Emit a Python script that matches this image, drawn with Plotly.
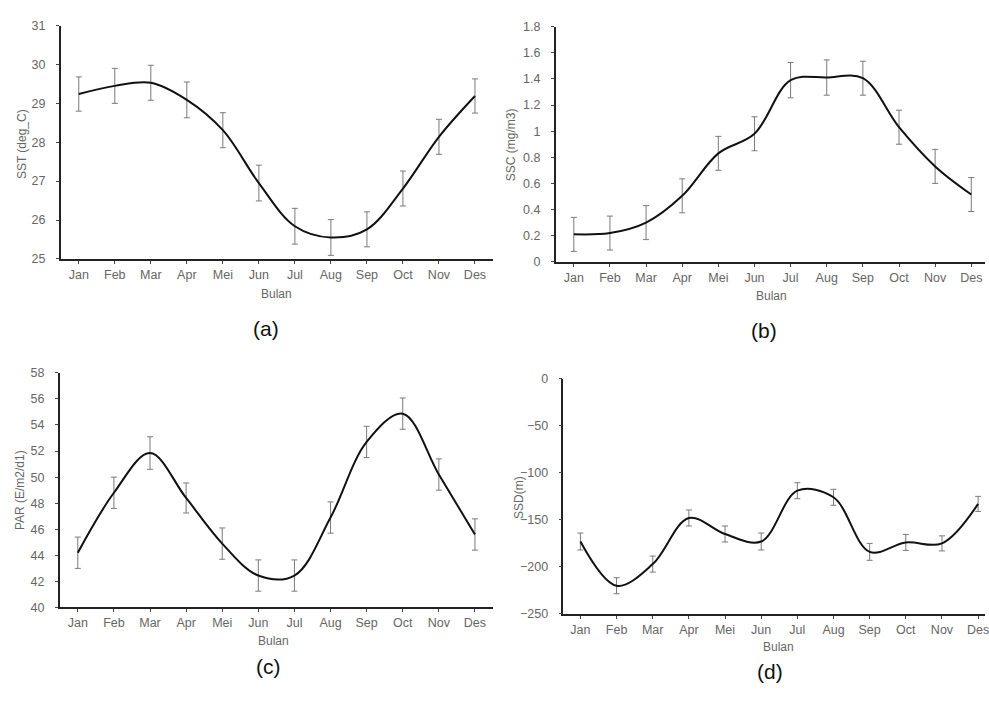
import plotly.graph_objects as go

months = ["Jan", "Feb", "Mar", "Apr", "Mei", "Jun", "Jul", "Aug", "Sep", "Oct", "Nov", "Des"]

sst = [29.24, 29.45, 29.53, 29.09, 28.31, 26.95, 25.84, 25.55, 25.76, 26.81, 28.14, 29.19]
sst_err = [0.44, 0.45, 0.45, 0.46, 0.45, 0.46, 0.46, 0.46, 0.45, 0.45, 0.45, 0.44]

ssc = [0.21, 0.22, 0.30, 0.505, 0.83, 0.98, 1.39, 1.41, 1.405, 1.03, 0.73, 0.515]
ssc_err = [0.13, 0.13, 0.13, 0.13, 0.13, 0.13, 0.135, 0.135, 0.13, 0.13, 0.13, 0.13]

par = [44.2, 48.8, 51.85, 48.4, 44.9, 42.45, 42.45, 46.9, 52.7, 54.87, 50.2, 45.6]
par_err = [1.2, 1.2, 1.25, 1.15, 1.2, 1.2, 1.2, 1.2, 1.2, 1.2, 1.2, 1.2]

ssd = [-173, -220, -197, -148, -165, -173, -119, -126, -184, -174, -175, -133]
ssd_err = [9, 8.5, 8.5, 8.5, 8.5, 9, 8.5, 8.5, 9, 8.5, 8, 8]

y_titles = ["SST (deg_C)", "SSC (mg/m3)", "PAR (E/m2/d1)", "SSD(m)"]
x_title = "Bulan"
panel_labels = ["(a)", "(b)", "(c)", "(d)"]

W, H = 989, 702
def fx(px):
    return px / W
def fy(py):
    return 1 - py / H

# panel pixel boxes: left, right, top, bottom
boxes = [
    (61, 495, 19, 257),
    (558, 989, 20, 260),
    (60, 495, 373.3, 612.7),
    (565.7, 989, 379.3, 619.3),
]
xranges = [[-0.5, 11.5], [-0.5, 11.38], [-0.5, 11.5], [-0.47, 11.19]]
yranges = [[25, 31], [0, 1.8], [40, 58], [-250, 0]]
ydticks = [1, 0.2, 2, 50]
series = [(sst, sst_err), (ssc, ssc_err), (par, par_err), (ssd, ssd_err)]

fig = go.Figure()
tick_font = dict(family="Liberation Sans, Arial, sans-serif", size=12.5, color="#666666")
for i, ((vals, errs), box) in enumerate(zip(series, boxes)):
    n = "" if i == 0 else str(i + 1)
    fig.add_trace(go.Scatter(
        x=list(range(12)), y=vals,
        mode="lines",
        line=dict(color="#111111", width=2, shape="spline", smoothing=1.0),
        error_y=dict(type="data", array=errs, visible=True, color="#7a7a7a", thickness=1, width=3),
        xaxis="x" + n, yaxis="y" + n, showlegend=False,
    ))
    l, r, t, b = box
    fig.layout["xaxis" + n] = dict(
        domain=[fx(l), fx(r)], range=xranges[i], anchor="y" + n,
        tickmode="array", tickvals=list(range(12)), ticktext=months,
        showgrid=False, zeroline=False, showline=True, linecolor="#222222", linewidth=1.5,
        ticks="outside", ticklen=3, tickcolor="#444444", tickfont=tick_font,
        ticklabelstandoff=0, ticklabeloverflow="allow",
    )
    fig.layout["yaxis" + n] = dict(
        domain=[fy(b), fy(t)], range=yranges[i], anchor="x" + n,
        dtick=ydticks[i], showgrid=False, zeroline=False, showline=True,
        linecolor="#222222", linewidth=1.5, ticks="outside", ticklen=3,
        tickcolor="#444444", tickfont=tick_font, ticklabelstandoff=8,
        ticklabeloverflow="allow",
    )

annos = []
ytitle_pos = [(22, 140), (513, 140), (20, 493), (521, 500)]
for txt, (px, py) in zip(y_titles, ytitle_pos):
    annos.append(dict(text=txt, x=fx(px), y=fy(py), xref="paper", yref="paper",
                      showarrow=False, textangle=-90, xanchor="center", yanchor="middle",
                      font=dict(family="Liberation Sans, Arial, sans-serif", size=12, color="#666666")))
bulan_pos = [(278, 293), (775, 295), (275, 647), (782, 653)]
for px, py in bulan_pos:
    annos.append(dict(text=x_title, x=fx(px), y=fy(py), xref="paper", yref="paper",
                      showarrow=False, xanchor="center", yanchor="middle",
                      font=dict(family="Liberation Sans, Arial, sans-serif", size=12, color="#666666")))
label_pos = [(267, 328), (767, 330), (270, 673), (773, 678)]
for txt, (px, py) in zip(panel_labels, label_pos):
    annos.append(dict(text=txt, x=fx(px), y=fy(py), xref="paper", yref="paper",
                      showarrow=False, xanchor="center", yanchor="middle",
                      font=dict(family="Liberation Sans, Arial, sans-serif", size=21, color="#111111")))

fig.update_layout(
    width=W, height=H, margin=dict(l=0, r=0, t=0, b=0),
    paper_bgcolor="white", plot_bgcolor="white",
    annotations=annos,
)
fig.write_html("out.html")
